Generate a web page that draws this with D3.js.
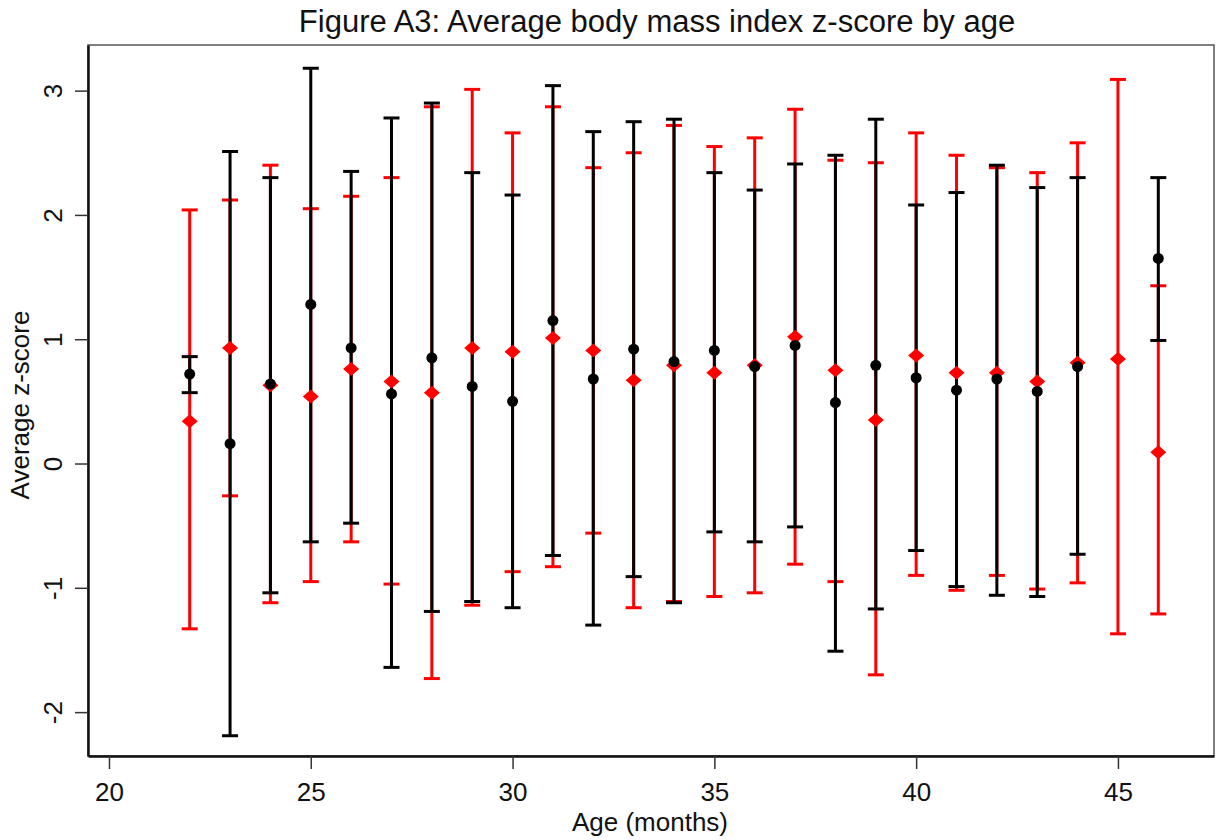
<!DOCTYPE html>
<html>
<head>
<meta charset="utf-8">
<script src="https://cdn.jsdelivr.net/npm/d3@7"></script>
<style>
  body { margin: 0; background: #fff; }
  text { font-family: "Liberation Sans", Arial, sans-serif; fill: #111; }
</style>
</head>
<body>
<svg id="chart" width="1218" height="840"></svg>
<script>
// ---- data ----
const ages = [22, 23, 24, 25, 26, 27, 28, 29, 30, 31, 32, 33, 34, 35, 36, 37, 38, 39, 40, 41, 42, 43, 44, 45, 46];

// black series (circles)
const blackMean = [0.72, 0.16, 0.64, 1.28, 0.93, 0.56, 0.85, 0.62, 0.50, 1.15, 0.68, 0.92, 0.82, 0.91, 0.78, 0.95, 0.49, 0.79, 0.69, 0.59, 0.68, 0.58, 0.78, null, 1.65];
const blackLo   = [0.57, -2.19, -1.04, -0.63, -0.48, -1.64, -1.19, -1.11, -1.16, -0.74, -1.30, -0.91, -1.12, -0.55, -0.63, -0.51, -1.51, -1.17, -0.70, -0.99, -1.06, -1.07, -0.73, null, 0.99];
const blackHi   = [0.86, 2.51, 2.30, 3.18, 2.35, 2.78, 2.90, 2.34, 2.16, 3.04, 2.67, 2.75, 2.77, 2.34, 2.20, 2.41, 2.48, 2.77, 2.08, 2.18, 2.40, 2.22, 2.30, null, 2.30];

// red series (diamonds)
const redMean = [0.34, 0.93, 0.63, 0.54, 0.76, 0.66, 0.57, 0.93, 0.90, 1.01, 0.91, 0.67, 0.79, 0.73, 0.79, 1.02, 0.75, 0.35, 0.87, 0.73, 0.73, 0.66, 0.81, 0.84, 0.09];
const redLo   = [-1.33, -0.26, -1.12, -0.95, -0.63, -0.97, -1.73, -1.14, -0.87, -0.83, -0.56, -1.16, -1.11, -1.07, -1.04, -0.81, -0.95, -1.70, -0.90, -1.02, -0.90, -1.01, -0.96, -1.37, -1.21];
const redHi   = [2.04, 2.12, 2.40, 2.05, 2.15, 2.30, 2.87, 3.01, 2.66, 2.87, 2.38, 2.50, 2.72, 2.55, 2.62, 2.85, 2.44, 2.42, 2.66, 2.48, 2.38, 2.34, 2.58, 3.09, 1.43];

const xTicks = [20, 25, 30, 35, 40, 45];
const yTicks = [-2, -1, 0, 1, 2, 3];

// ---- layout ----
const svg = d3.select("#chart");
const pLeft = 88, pRight = 1214, pTop = 45, pBottom = 756;

const x = d3.scaleLinear().domain([19.48, 47.38]).range([pLeft, pRight]);
const y = d3.scaleLinear().domain([-2.353, 3.367]).range([pBottom, pTop]);

// box
svg.append("rect")
  .attr("x", pLeft).attr("y", pTop)
  .attr("width", pRight - pLeft).attr("height", pBottom - pTop)
  .attr("fill", "none").attr("stroke", "#555").attr("stroke-width", 1.5);

// axes
const xAxis = svg.append("g")
  .attr("transform", `translate(0,${pBottom})`)
  .call(d3.axisBottom(x).tickValues(xTicks).tickSizeInner(13).tickSizeOuter(0).tickFormat(d => String(d)));
const yAxis = svg.append("g")
  .attr("transform", `translate(${pLeft},0)`)
  .call(d3.axisLeft(y).tickValues(yTicks).tickSizeInner(13).tickSizeOuter(0).tickFormat(d => String(d)));

[xAxis, yAxis].forEach(g => {
  g.select(".domain").attr("stroke", "#111").attr("stroke-width", 2.5);
  g.selectAll(".tick line").attr("stroke", "#333").attr("stroke-width", 1.5);
  g.selectAll(".tick text").attr("font-size", 26).attr("fill", "#111")
    .attr("font-family", "Liberation Sans, Arial, sans-serif");
});
xAxis.selectAll(".tick text").attr("dy", null).attr("y", 45);
yAxis.selectAll(".tick text")
  .attr("x", null).attr("dy", null)
  .attr("text-anchor", "middle")
  .attr("transform", "translate(-26,0) rotate(-90)")
  .attr("y", 0);

// titles
svg.append("text")
  .attr("x", 657).attr("y", 32)
  .attr("text-anchor", "middle").attr("font-size", 31)
  .text("Figure A3: Average body mass index z-score by age");
svg.append("text")
  .attr("x", 650).attr("y", 831)
  .attr("text-anchor", "middle").attr("font-size", 26)
  .text("Age (months)");
svg.append("text")
  .attr("transform", "translate(29,405) rotate(-90)")
  .attr("text-anchor", "middle").attr("font-size", 26)
  .text("Average z-score");

// ---- error bars ----
const capW = 8;
function drawBars(means, lo, hi, color) {
  const rows = ages.map((a, i) => ({ a, m: means[i], lo: lo[i], hi: hi[i] })).filter(d => d.m != null);
  const g = svg.append("g").attr("stroke", color).attr("stroke-width", 3).attr("fill", "none");
  g.selectAll("line.v").data(rows).enter().append("line")
    .attr("x1", d => x(d.a)).attr("x2", d => x(d.a))
    .attr("y1", d => y(d.lo)).attr("y2", d => y(d.hi));
  g.selectAll("line.t").data(rows).enter().append("line")
    .attr("x1", d => x(d.a) - capW).attr("x2", d => x(d.a) + capW)
    .attr("y1", d => y(d.hi)).attr("y2", d => y(d.hi));
  g.selectAll("line.b").data(rows).enter().append("line")
    .attr("x1", d => x(d.a) - capW).attr("x2", d => x(d.a) + capW)
    .attr("y1", d => y(d.lo)).attr("y2", d => y(d.lo));
  return rows;
}

const redRows = drawBars(redMean, redLo, redHi, "#ff0000");
const blackRows = drawBars(blackMean, blackLo, blackHi, "#000000");

// red diamonds
svg.append("g").selectAll("path").data(redRows).enter().append("path")
  .attr("d", d => {
    const cx = x(d.a), cy = y(d.m);
    return `M${cx - 8},${cy} L${cx},${cy - 7} L${cx + 8},${cy} L${cx},${cy + 7} Z`;
  })
  .attr("fill", "#ff0000");

// black dots
svg.append("g").selectAll("circle").data(blackRows).enter().append("circle")
  .attr("cx", d => x(d.a)).attr("cy", d => y(d.m))
  .attr("r", 5.5).attr("fill", "#000");
</script>
</body>
</html>
